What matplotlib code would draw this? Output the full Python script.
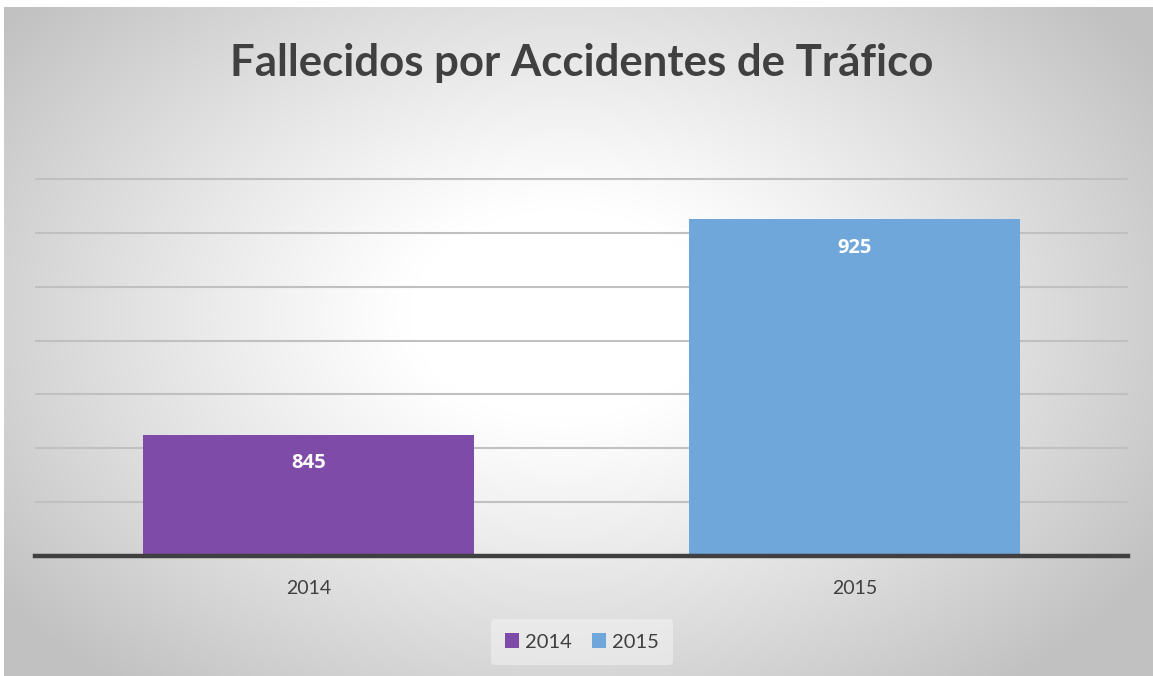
import numpy as np
import matplotlib
matplotlib.use("Agg")
import matplotlib.pyplot as plt
from matplotlib.patches import Patch

categories = ["2014", "2015"]
values = [845, 925]
colors = ["#7F4BA8", "#6FA7DB"]
title = "Fallecidos por Accidentes de Tráfico"

W, H, DPI = 1153, 676, 100
FONT = "Lato"
fig = plt.figure(figsize=(W / DPI, H / DPI), dpi=DPI)
fig.patch.set_facecolor("white")

# radial gradient background
bg = fig.add_axes([4 / W, 0, 1 - 4 / W, 1 - 7 / H])
yy, xx = np.mgrid[0:H, 0:W]
cx, cy = 560, 310
r = np.sqrt(((xx - cx) / 700) ** 2 + ((yy - cy) / 480) ** 2)
g = 1.0 - 0.24 * np.clip((r - 0.22) / 0.78, 0, 1) ** 1.1
img = np.dstack([g, g, g])
bg.imshow(img, aspect="auto", extent=[0, 1, 0, 1], interpolation="bilinear")
bg.set_axis_off()

top_px = 556 - 145 * (556 - 179) / 140
ax = fig.add_axes([35 / W, 1 - 556 / H, (1128 - 35) / W, (556 - top_px) / H])
ax.patch.set_alpha(0)
x = np.arange(len(categories))
bars = ax.bar(x, values, width=0.606, color=colors, bottom=0, zorder=3)
ax.set_ylim(800, 945)
ax.set_xlim(-0.5, 1.5)
ax.set_yticks(np.arange(820, 941, 20))
ax.yaxis.grid(True, color="#C0C0C0", linewidth=1.5, zorder=0)
ax.tick_params(axis="y", left=False, labelleft=False)
ax.tick_params(axis="x", bottom=False, labelsize=14, colors="#404040", pad=14)
ax.set_xticks(x)
ax.set_xticklabels(categories, family=FONT)
for s in ["top", "right", "left"]:
    ax.spines[s].set_visible(False)
ax.spines["bottom"].set_color("#404040")
ax.spines["bottom"].set_linewidth(3.2)
ax.spines["bottom"].set_zorder(5)

for xi, v in zip(x, values):
    ax.annotate(str(v), (xi, v), xytext=(0, -20.5), textcoords="offset points",
                ha="center", va="center", color="white", fontsize=14.5,
                fontweight="bold", family="Open Sans", zorder=6)

fig.text(582 / W, 1 - 63 / H, title, ha="center", va="center",
         fontsize=31.5, fontweight="bold", color="#404040", family=FONT)

handles = [Patch(facecolor=c, label=l) for c, l in zip(colors, categories)]
leg = fig.legend(handles=handles, loc="center", bbox_to_anchor=(582 / W, 1 - 642 / H),
                 ncol=2, frameon=True, handlelength=0.7, handleheight=0.7,
                 handletextpad=0.3, columnspacing=1.0, borderpad=0.7,
                 prop={"family": FONT, "size": 14.5})
leg.get_frame().set_facecolor("#F5F5F5")
leg.get_frame().set_edgecolor("none")
leg.get_frame().set_alpha(0.5)
for t in leg.get_texts():
    t.set_color("#404040")

fig.savefig("out.png", dpi=DPI)
